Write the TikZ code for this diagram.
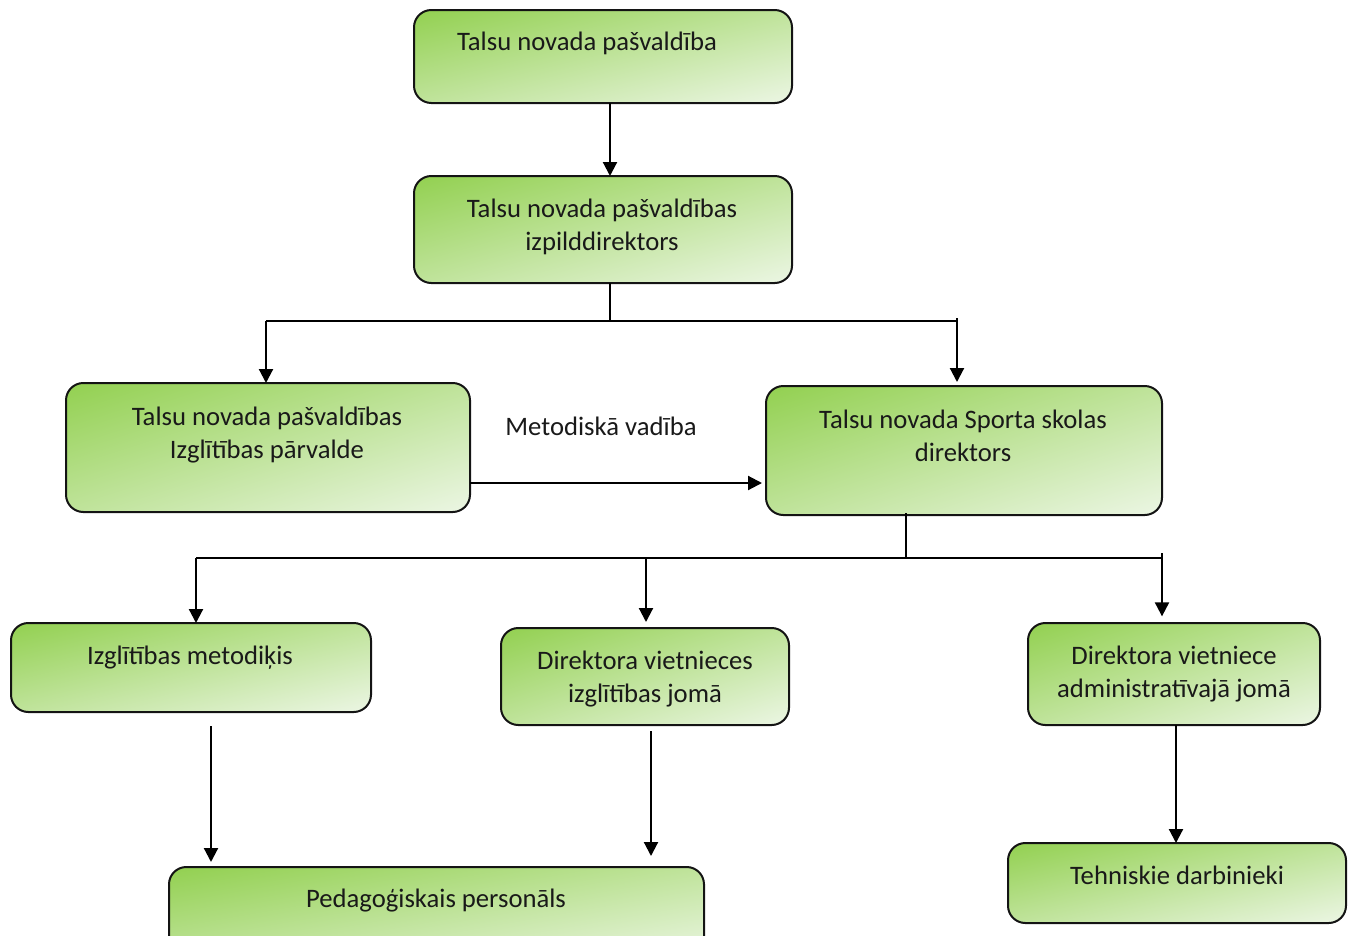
\documentclass[tikz,border=0pt]{standalone}
\usepackage{fontspec}
\setmainfont{Carlito}
\usetikzlibrary{arrows.meta}
\definecolor{edge}{RGB}{20,20,20}
\pgfdeclarefunctionalshading{orgshade}{\pgfpointorigin}{\pgfpoint{100bp}{100bp}}{}{
  neg 75 add exch 25 sub add 100 div
  dup 0 lt {pop 0} if dup 1 gt {pop 1} if
  dup 0.352 mul 0.573 add exch dup 0.149 mul 0.816 add exch 0.580 mul 0.314 add
}
\begin{document}
\begin{tikzpicture}[x=0.75pt,y=-0.75pt,
  orgbox/.style={draw=edge, line width=1.5pt, rounded corners=13pt, inner sep=0pt, outer sep=0pt,
    anchor=north west, shade, shading=orgshade, shading angle=0},
  boxtext/.style={anchor=north, inner sep=0pt, align=center, font=\fontsize{20}{24.75}\selectfont, text=black!90},
  arr/.style={line width=1.6pt, -{Triangle[length=10.5pt,width=10.5pt]}},
  hub/.style={line width=1.2pt}]
\useasboundingbox (0,0) rectangle (1354,936);
% boxes
\node[orgbox, minimum width=283.5pt, minimum height=69.75pt] (b1) at (414,10) {};
\node[orgbox, minimum width=283.5pt, minimum height=80.25pt] (b2) at (414,176) {};
\node[orgbox, minimum width=303pt, minimum height=96.75pt] (b3) at (66,383) {};
\node[orgbox, minimum width=297pt, minimum height=96.75pt] (b4) at (766,386) {};
\node[orgbox, minimum width=270pt, minimum height=66.75pt] (b5) at (11,623) {};
\node[orgbox, minimum width=216pt, minimum height=72.75pt] (b6) at (501,628) {};
\node[orgbox, minimum width=219pt, minimum height=76.5pt] (b7) at (1028,623) {};
\node[orgbox, minimum width=401.25pt, minimum height=70pt] (b8) at (169,867) {};
\node[orgbox, minimum width=253.5pt, minimum height=60pt] (b9) at (1008,843) {};
% texts
\node[boxtext] (t1) at (587,32) {Talsu novada pašvaldība};
\node[boxtext] (t2) at (602,198.5) {Talsu novada pašvaldības\\izpilddirektors};
\node[boxtext] (t3) at (267,407) {Talsu novada pašvaldības\\Izglītības pārvalde};
\node[boxtext] (t4) at (963,410) {Talsu novada Sporta skolas\\direktors};
\node[boxtext] (t5) at (190,646) {Izglītības metodiķis};
\node[boxtext] (t6) at (645,651) {Direktora vietnieces\\izglītības jomā};
\node[boxtext] (t7) at (1174,646) {Direktora vietniece\\administratīvajā jomā};
\node[boxtext] (t8) at (436,889) {Pedagoģiskais personāls};
\node[boxtext] (t9) at (1177,866) {Tehniskie darbinieki};
\node[boxtext] (lm) at (601,417) {Metodiskā vadība};
% coordinates
\coordinate (c1) at (610,0);
\coordinate (h1) at (610,321);
\coordinate (h1l) at (266,321);
\coordinate (h1r) at (957,318);
\coordinate (h1re) at (957,321);
\coordinate (m) at (0,483);
\coordinate (h2) at (906,558);
\coordinate (h2l) at (196,558);
\coordinate (h2m) at (646,558);
\coordinate (h2r) at (1162,553);
\coordinate (h2re) at (1162,558);
\coordinate (a5s) at (211,726);
\coordinate (a5e) at (211,862);
\coordinate (a6s) at (651,731);
\coordinate (a6e) at (651,856);
\coordinate (a7) at (1176,0);
% connectors
\draw[arr] (b1.south -| c1) -- (b2.north -| c1);
\draw[hub] (b2.south -| h1) -- (h1);
\draw[hub] (h1l) -- (h1re);
\draw[arr] (h1l) -- (b3.north -| h1l);
\draw[arr] (h1r) -- ([yshift=3pt]b4.north -| h1r);
\draw[arr] (b3.east |- m) -- ([xshift=-3pt]b4.west |- m);
\draw[hub] ([yshift=1.5pt]b4.south -| h2) -- (h2);
\draw[hub] (h2l) -- (h2re);
\draw[arr] (h2l) -- (b5.north -| h2l);
\draw[arr] (h2m) -- ([yshift=4.5pt]b6.north -| h2m);
\draw[arr] (h2r) -- ([yshift=5pt]b7.north -| h2r);
\draw[arr] (a5s) -- (a5e);
\draw[arr] (a6s) -- (a6e);
\draw[arr] (b7.south -| a7) -- (b9.north -| a7);
\end{tikzpicture}
\end{document}
